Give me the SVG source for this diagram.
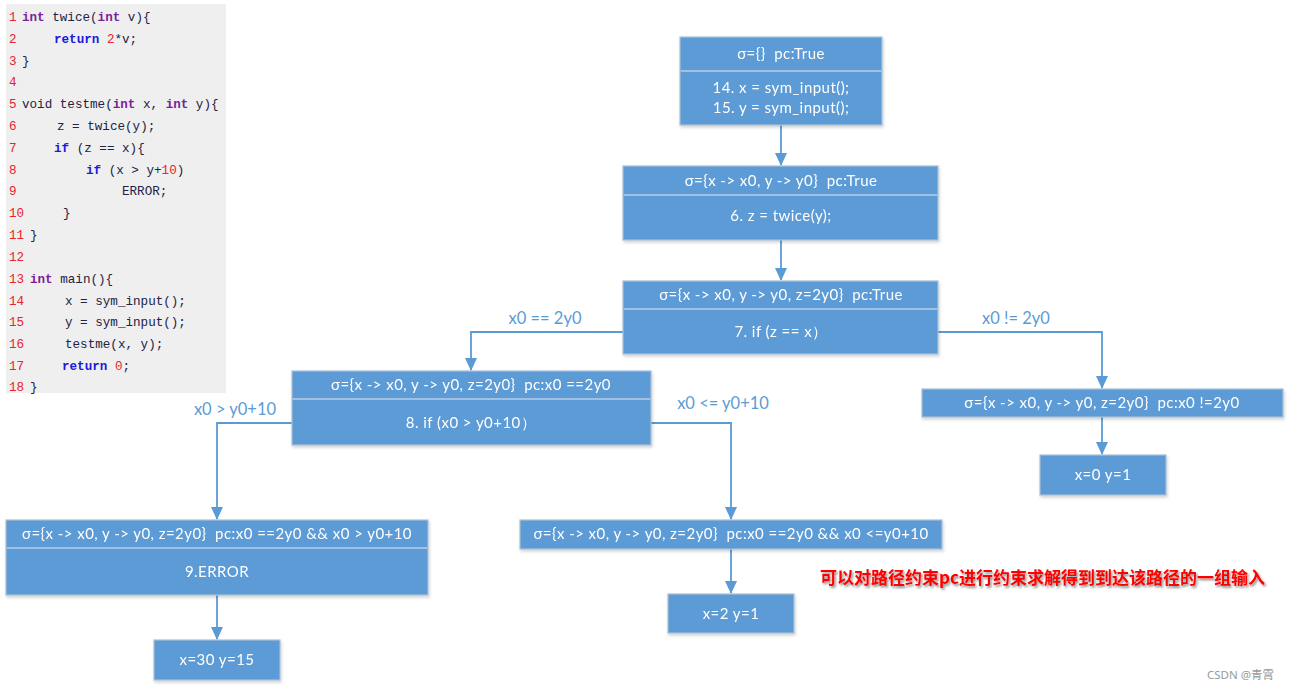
<svg xmlns="http://www.w3.org/2000/svg" width="1290" height="690" viewBox="0 0 1290 690">
<style>
.box{fill:#5b9bd5;stroke:#a9bed6;stroke-width:1.2}
.div{stroke:#b8cde6;stroke-width:1.5}
.t{font-family:Lato,"Open Sans","Liberation Sans",sans-serif;font-size:15px;letter-spacing:0.45px;fill:#ffffff;text-anchor:middle;white-space:pre}
.lbl{font-family:Lato,"Open Sans","Liberation Sans",sans-serif;font-size:16.5px;fill:#5b9bd5;text-anchor:middle;white-space:pre}
.edge{fill:none;stroke:#5b9bd5;stroke-width:1.8}
.code{font-family:"Liberation Mono","DejaVu Sans Mono",monospace;font-size:12.6px;fill:#222244}
.ln{fill:#e8222e}
.kw{fill:#7a1f9a;font-weight:bold}
.kb{fill:#1a1ae0;font-weight:bold}
.num{fill:#e8222e}
.note{font-family:"Noto Sans CJK SC","Noto Sans",sans-serif;font-size:17px;font-weight:bold;fill:#ff0000}
.wm{font-family:"Noto Sans","Noto Sans CJK SC",sans-serif;font-size:11.5px;fill:#999999}
</style>
<defs>
<marker id="arr" markerWidth="14" markerHeight="12" refX="12" refY="6" orient="auto" markerUnits="userSpaceOnUse">
<path d="M0,0 L13,6 L0,12 z" fill="#5b9bd5"/>
</marker>
<filter id="sh" x="-5%" y="-10%" width="110%" height="130%">
<feDropShadow dx="1" dy="2" stdDeviation="1.5" flood-color="#000000" flood-opacity="0.18"/>
</filter>
<filter id="tsh" x="-5%" y="-30%" width="110%" height="170%">
<feDropShadow dx="1.5" dy="2" stdDeviation="1.2" flood-color="#000000" flood-opacity="0.45"/>
</filter>
</defs>

<g id="code">
<rect x="6" y="4" width="220" height="389" fill="#efefef"/>
<text class="code" y="21"><tspan x="9" class="ln">1</tspan><tspan x="22" class="kw">int</tspan><tspan> twice(</tspan><tspan class="kw">int</tspan><tspan> v){</tspan></text>
<text class="code" y="43"><tspan x="9" class="ln">2</tspan><tspan x="54" class="kb">return</tspan><tspan> </tspan><tspan class="num">2</tspan><tspan>*v;</tspan></text>
<text class="code" y="65"><tspan x="9" class="ln">3</tspan><tspan x="22">}</tspan></text>
<text class="code" y="86"><tspan x="9" class="ln">4</tspan></text>
<text class="code" y="108"><tspan x="9" class="ln">5</tspan><tspan x="22">void testme(</tspan><tspan class="kw">int</tspan><tspan> x, </tspan><tspan class="kw">int</tspan><tspan> y){</tspan></text>
<text class="code" y="130"><tspan x="9" class="ln">6</tspan><tspan x="57">z = twice(y);</tspan></text>
<text class="code" y="152"><tspan x="9" class="ln">7</tspan><tspan x="54" class="kb">if</tspan><tspan> (z == x){</tspan></text>
<text class="code" y="174"><tspan x="9" class="ln">8</tspan><tspan x="86" class="kb">if</tspan><tspan> (x &gt; y+</tspan><tspan class="num">10</tspan><tspan>)</tspan></text>
<text class="code" y="195"><tspan x="9" class="ln">9</tspan><tspan x="122">ERROR;</tspan></text>
<text class="code" y="217"><tspan x="9" class="ln">10</tspan><tspan x="63">}</tspan></text>
<text class="code" y="239"><tspan x="9" class="ln">11</tspan><tspan x="30">}</tspan></text>
<text class="code" y="261"><tspan x="9" class="ln">12</tspan></text>
<text class="code" y="283"><tspan x="9" class="ln">13</tspan><tspan x="30" class="kw">int</tspan><tspan> main(){</tspan></text>
<text class="code" y="305"><tspan x="9" class="ln">14</tspan><tspan x="65">x = sym_input();</tspan></text>
<text class="code" y="326"><tspan x="9" class="ln">15</tspan><tspan x="65">y = sym_input();</tspan></text>
<text class="code" y="348"><tspan x="9" class="ln">16</tspan><tspan x="65">testme(x, y);</tspan></text>
<text class="code" y="370"><tspan x="9" class="ln">17</tspan><tspan x="62" class="kb">return</tspan><tspan> </tspan><tspan class="num">0</tspan><tspan>;</tspan></text>
<text class="code" y="391"><tspan x="9" class="ln">18</tspan><tspan x="30">}</tspan></text>
</g>

<g id="edges">
<path class="edge" d="M781,125 V165" marker-end="url(#arr)"/>
<path class="edge" d="M781,240 V280" marker-end="url(#arr)"/>
<path class="edge" d="M623,332 H471 V370" marker-end="url(#arr)"/>
<path class="edge" d="M938,332 H1102 V388" marker-end="url(#arr)"/>
<path class="edge" d="M1102,417 V454" marker-end="url(#arr)"/>
<path class="edge" d="M292,423 H217 V519" marker-end="url(#arr)"/>
<path class="edge" d="M651,423 H731 V519" marker-end="url(#arr)"/>
<path class="edge" d="M217,595 V639" marker-end="url(#arr)"/>
<path class="edge" d="M731,549 V593" marker-end="url(#arr)"/>
<text class="lbl" x="545" y="324">x0 == 2y0</text>
<text class="lbl" x="1016" y="324">x0 != 2y0</text>
<text class="lbl" x="235" y="415">x0 &gt; y0+10</text>
<text class="lbl" x="723" y="409">x0 &lt;= y0+10</text>
</g>

<g id="nA" filter="url(#sh)">
<rect class="box" x="680" y="37" width="202" height="88"/>
<line class="div" x1="680.6" y1="71" x2="881.4" y2="71"/>
<text class="t" x="781" y="59">σ={}  pc:True</text>
<text class="t" x="781" y="93">14. x = sym_input();</text>
<text class="t" x="781" y="113">15. y = sym_input();</text>
</g>

<g id="nB" filter="url(#sh)">
<rect class="box" x="623" y="166" width="315" height="74"/>
<line class="div" x1="623.6" y1="195" x2="937.4" y2="195"/>
<text class="t" x="781" y="186">σ={x -&gt; x0, y -&gt; y0}  pc:True</text>
<text class="t" x="781" y="221">6. z = twice(y);</text>
</g>

<g id="nC" filter="url(#sh)">
<rect class="box" x="623" y="281" width="315" height="73"/>
<line class="div" x1="623.6" y1="309" x2="937.4" y2="309"/>
<text class="t" x="781" y="300">σ={x -&gt; x0, y -&gt; y0, z=2y0}  pc:True</text>
<text class="t" x="781" y="337">7. if (z == x）</text>
</g>

<g id="nD" filter="url(#sh)">
<rect class="box" x="292" y="371" width="359" height="74"/>
<line class="div" x1="292.6" y1="399" x2="650.4" y2="399"/>
<text class="t" x="471" y="390">σ={x -&gt; x0, y -&gt; y0, z=2y0}  pc:x0 ==2y0</text>
<text class="t" x="471" y="428">8. if (x0 &gt; y0+10）</text>
</g>

<g id="nE" filter="url(#sh)">
<rect class="box" x="922" y="389" width="361" height="28"/>
<text class="t" x="1102" y="408">σ={x -&gt; x0, y -&gt; y0, z=2y0}  pc:x0 !=2y0</text>
</g>

<g id="nF" filter="url(#sh)">
<rect class="box" x="1040" y="455" width="126" height="40"/>
<text class="t" x="1103" y="480">x=0 y=1</text>
</g>

<g id="nG" filter="url(#sh)">
<rect class="box" x="6" y="520" width="422" height="75"/>
<line class="div" x1="6.6" y1="548" x2="427.4" y2="548"/>
<text class="t" x="217" y="539">σ={x -&gt; x0, y -&gt; y0, z=2y0}  pc:x0 ==2y0 &amp;&amp; x0 &gt; y0+10</text>
<text class="t" x="217" y="577">9.ERROR</text>
</g>

<g id="nH" filter="url(#sh)">
<rect class="box" x="520" y="520" width="422" height="29"/>
<text class="t" x="731" y="539">σ={x -&gt; x0, y -&gt; y0, z=2y0}  pc:x0 ==2y0 &amp;&amp; x0 &lt;=y0+10</text>
</g>

<g id="nI" filter="url(#sh)">
<rect class="box" x="668" y="594" width="126" height="39"/>
<text class="t" x="731" y="619">x=2 y=1</text>
</g>

<g id="nJ" filter="url(#sh)">
<rect class="box" x="154" y="640" width="126" height="40"/>
<text class="t" x="217" y="665">x=30 y=15</text>
</g>

<text class="note" x="820" y="584" filter="url(#tsh)">可以对路径约束pc进行约束求解得到到达该路径的一组输入</text>
<text class="wm" x="1207" y="679">CSDN @青霄</text>
</svg>
